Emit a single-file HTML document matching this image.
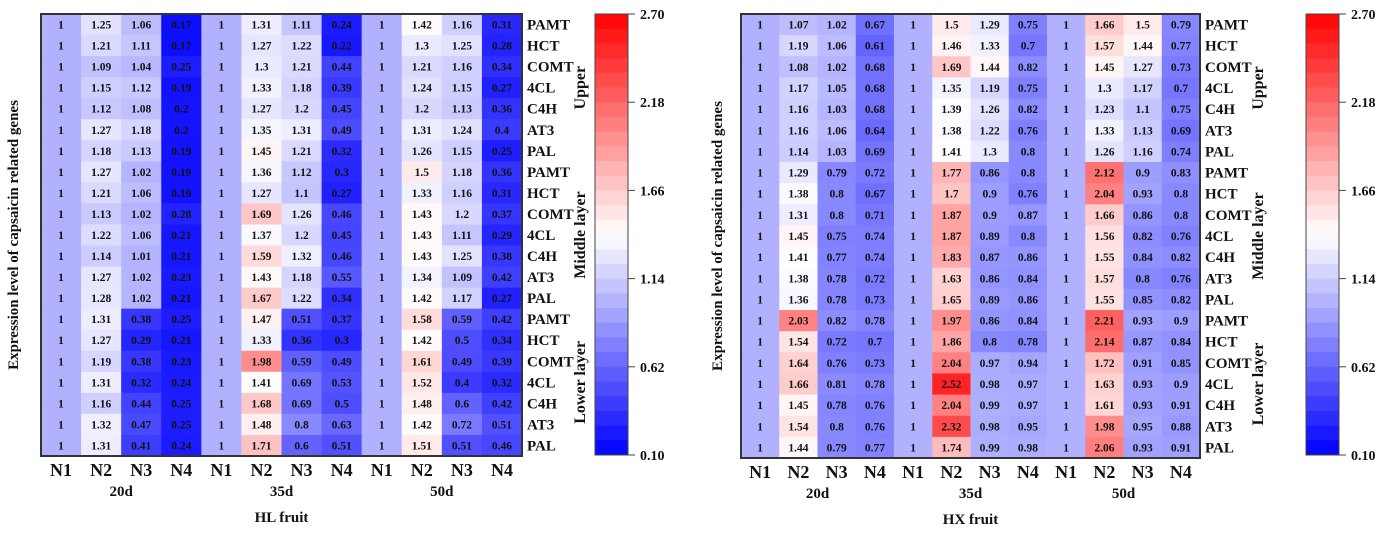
<!DOCTYPE html>
<html><head><meta charset="utf-8"><style>
body{margin:0;background:#fff;width:1394px;height:536px;overflow:hidden}
svg{display:block;font-family:"Liberation Serif",serif;font-weight:bold}
</style></head><body>
<svg id="chart" width="1394" height="536" xmlns="http://www.w3.org/2000/svg"></svg>
<script>
const genes=["PAMT","HCT","COMT","4CL","C4H","AT3","PAL","PAMT","HCT","COMT","4CL","C4H","AT3","PAL","PAMT","HCT","COMT","4CL","C4H","AT3","PAL"];
const colLabels=["N1","N2","N3","N4","N1","N2","N3","N4","N1","N2","N3","N4"];
const groupLabels=["20d","35d","50d"];
const layerLabels=["Upper","Middle layer","Lower layer"];
const cbTicks=[2.70,2.18,1.66,1.14,0.62,0.10];
const hlValues=[
[1,1.25,1.06,0.17,1,1.31,1.11,0.24,1,1.42,1.16,0.31],
[1,1.21,1.11,0.17,1,1.27,1.22,0.22,1,1.3,1.25,0.28],
[1,1.09,1.04,0.25,1,1.3,1.21,0.44,1,1.21,1.16,0.34],
[1,1.15,1.12,0.19,1,1.33,1.18,0.39,1,1.24,1.15,0.27],
[1,1.12,1.08,0.2,1,1.27,1.2,0.45,1,1.2,1.13,0.36],
[1,1.27,1.18,0.2,1,1.35,1.31,0.49,1,1.31,1.24,0.4],
[1,1.18,1.13,0.19,1,1.45,1.21,0.32,1,1.26,1.15,0.25],
[1,1.27,1.02,0.19,1,1.36,1.12,0.3,1,1.5,1.18,0.36],
[1,1.21,1.06,0.19,1,1.27,1.1,0.27,1,1.33,1.16,0.31],
[1,1.13,1.02,0.28,1,1.69,1.26,0.46,1,1.43,1.2,0.37],
[1,1.22,1.06,0.21,1,1.37,1.2,0.45,1,1.43,1.11,0.29],
[1,1.14,1.01,0.21,1,1.59,1.32,0.46,1,1.43,1.25,0.38],
[1,1.27,1.02,0.23,1,1.43,1.18,0.55,1,1.34,1.09,0.42],
[1,1.28,1.02,0.21,1,1.67,1.22,0.34,1,1.42,1.17,0.27],
[1,1.31,0.38,0.25,1,1.47,0.51,0.37,1,1.58,0.59,0.42],
[1,1.27,0.29,0.21,1,1.33,0.36,0.3,1,1.42,0.5,0.34],
[1,1.19,0.38,0.23,1,1.98,0.59,0.49,1,1.61,0.49,0.39],
[1,1.31,0.32,0.24,1,1.41,0.69,0.53,1,1.52,0.4,0.32],
[1,1.16,0.44,0.25,1,1.68,0.69,0.5,1,1.48,0.6,0.42],
[1,1.32,0.47,0.25,1,1.48,0.8,0.63,1,1.42,0.72,0.51],
[1,1.31,0.41,0.24,1,1.71,0.6,0.51,1,1.51,0.51,0.46]];
const hxValues=[
[1,1.07,1.02,0.67,1,1.5,1.29,0.75,1,1.66,1.5,0.79],
[1,1.19,1.06,0.61,1,1.46,1.33,0.7,1,1.57,1.44,0.77],
[1,1.08,1.02,0.68,1,1.69,1.44,0.82,1,1.45,1.27,0.73],
[1,1.17,1.05,0.68,1,1.35,1.19,0.75,1,1.3,1.17,0.7],
[1,1.16,1.03,0.68,1,1.39,1.26,0.82,1,1.23,1.1,0.75],
[1,1.16,1.06,0.64,1,1.38,1.22,0.76,1,1.33,1.13,0.69],
[1,1.14,1.03,0.69,1,1.41,1.3,0.8,1,1.26,1.16,0.74],
[1,1.29,0.79,0.72,1,1.77,0.86,0.8,1,2.12,0.9,0.83],
[1,1.38,0.8,0.67,1,1.7,0.9,0.76,1,2.04,0.93,0.8],
[1,1.31,0.8,0.71,1,1.87,0.9,0.87,1,1.66,0.86,0.8],
[1,1.45,0.75,0.74,1,1.87,0.89,0.8,1,1.56,0.82,0.76],
[1,1.41,0.77,0.74,1,1.83,0.87,0.86,1,1.55,0.84,0.82],
[1,1.38,0.78,0.72,1,1.63,0.86,0.84,1,1.57,0.8,0.76],
[1,1.36,0.78,0.73,1,1.65,0.89,0.86,1,1.55,0.85,0.82],
[1,2.03,0.82,0.78,1,1.97,0.86,0.84,1,2.21,0.93,0.9],
[1,1.54,0.72,0.7,1,1.86,0.8,0.78,1,2.14,0.87,0.84],
[1,1.64,0.76,0.73,1,2.04,0.97,0.94,1,1.72,0.91,0.85],
[1,1.66,0.81,0.78,1,2.52,0.98,0.97,1,1.63,0.93,0.9],
[1,1.45,0.78,0.76,1,2.04,0.99,0.97,1,1.61,0.93,0.91],
[1,1.54,0.8,0.76,1,2.32,0.98,0.95,1,1.98,0.95,0.88],
[1,1.44,0.79,0.77,1,1.74,0.99,0.98,1,2.06,0.93,0.91]];

const NS="http://www.w3.org/2000/svg";
const svg=document.getElementById('chart');
function mk(tag,attrs,parent){const e=document.createElementNS(NS,tag);for(const k in attrs)e.setAttribute(k,attrs[k]);(parent||svg).appendChild(e);return e;}
const VMIN=0.10,VMAX=2.70,VMID=1.40;
function color(v){
  let r,g,b;
  if(v<=VMID){const t=Math.max(0,(v-VMIN)/(VMID-VMIN));r=Math.round(255*t);g=r;b=255;}
  else{const t=Math.min(1,(v-VMID)/(VMAX-VMID));r=255;g=Math.round(255*(1-t));b=g;}
  return `rgb(${r},${g},${b})`;
}
function panel(vals,x0,x1,y0,y1,cbX,title,axisX,nameP){
  const g=mk('g',{});
  
  
  const nr=vals.length,nc=vals[0].length;
  const cw=(x1-x0)/nc,rh=(y1-y0)/nr;
  const xs=c=>x0+c*cw, ys=r=>y0+r*rh;
  vals.forEach((row,r)=>row.forEach((v,c)=>{
    const rc=mk('rect',{x:xs(c),y:ys(r),width:cw+0.5,height:rh+0.5,fill:color(v)},g);
    
    
    const t=mk('text',{x:xs(c)+cw/2,y:ys(r)+rh/2+4,'text-anchor':'middle','font-size':11.5,fill:'#111'},g);
    
    
    t.textContent=v;
  }));
  mk('rect',{x:x0,y:y0,width:x1-x0,height:y1-y0,fill:'none',stroke:'#333','stroke-width':2},g);
  genes.forEach((gn,r)=>{
    const t=mk('text',{x:x1+5,y:ys(r)+rh/2+5,'font-size':15,fill:'#111'},g);
    
    
    t.textContent=gn;
  });
  layerLabels.forEach((l,i)=>{
    const cy=ys(i*7+3.5),cx=x1+63;
    const t=mk('text',{x:cx,y:cy,'text-anchor':'middle','font-size':16,fill:'#111',transform:`rotate(-90 ${cx} ${cy})`},g);
    
    
    t.textContent=l;
  });
  colLabels.forEach((l,c)=>{
    const t=mk('text',{x:xs(c)+cw/2,y:y1+20,'text-anchor':'middle','font-size':18,fill:'#111'},g);
    
    
    t.textContent=l;
  });
  groupLabels.forEach((l,i)=>{
    const t=mk('text',{x:xs(i*4+2),y:y1+40,'text-anchor':'middle','font-size':15,fill:'#111'},g);
    
    
    t.textContent=l;
  });
  const tt=mk('text',{x:(x0+x1)/2,y:y1+66,'text-anchor':'middle','font-size':15,fill:'#111'},g);
  
  
  tt.textContent=title;
  const ay=(y0+y1)/2;
  const yt=mk('text',{x:axisX,y:ay,'text-anchor':'middle','font-size':15,fill:'#111',transform:`rotate(-90 ${axisX} ${ay})`},g);
  
  
  yt.textContent='Expression level of capsaicin related genes';
  const cbY0=14,cbY1=455,cbW=33,steps=30;
  const cb=mk('g',{},g);
  
  
  const sh=(cbY1-cbY0)/steps;
  for(let i=0;i<steps;i++){
    const v=VMAX-(i+0.5)*(VMAX-VMIN)/steps;
    mk('rect',{x:cbX,y:cbY0+i*sh,width:cbW,height:sh+0.5,fill:color(v)},cb);
  }
  mk('rect',{x:cbX,y:cbY0,width:cbW,height:cbY1-cbY0,fill:'none',stroke:'#444','stroke-width':1},cb);
  cbTicks.forEach(v=>{
    const y=cbY0+(VMAX-v)/(VMAX-VMIN)*(cbY1-cbY0);
    mk('line',{x1:cbX+cbW,x2:cbX+cbW+7,y1:y,y2:y,stroke:'#444'},cb);
    const t=mk('text',{x:cbX+cbW+12,y:y+5,'font-size':14,fill:'#111'},cb);
    
    
    t.textContent=v.toFixed(2);
  });
}
panel(hlValues,41,522,14,456,595,'HL fruit',18,'hl');
panel(hxValues,741,1200,14,458,1306,'HX fruit',722,'hx');
</script>
</body></html>
